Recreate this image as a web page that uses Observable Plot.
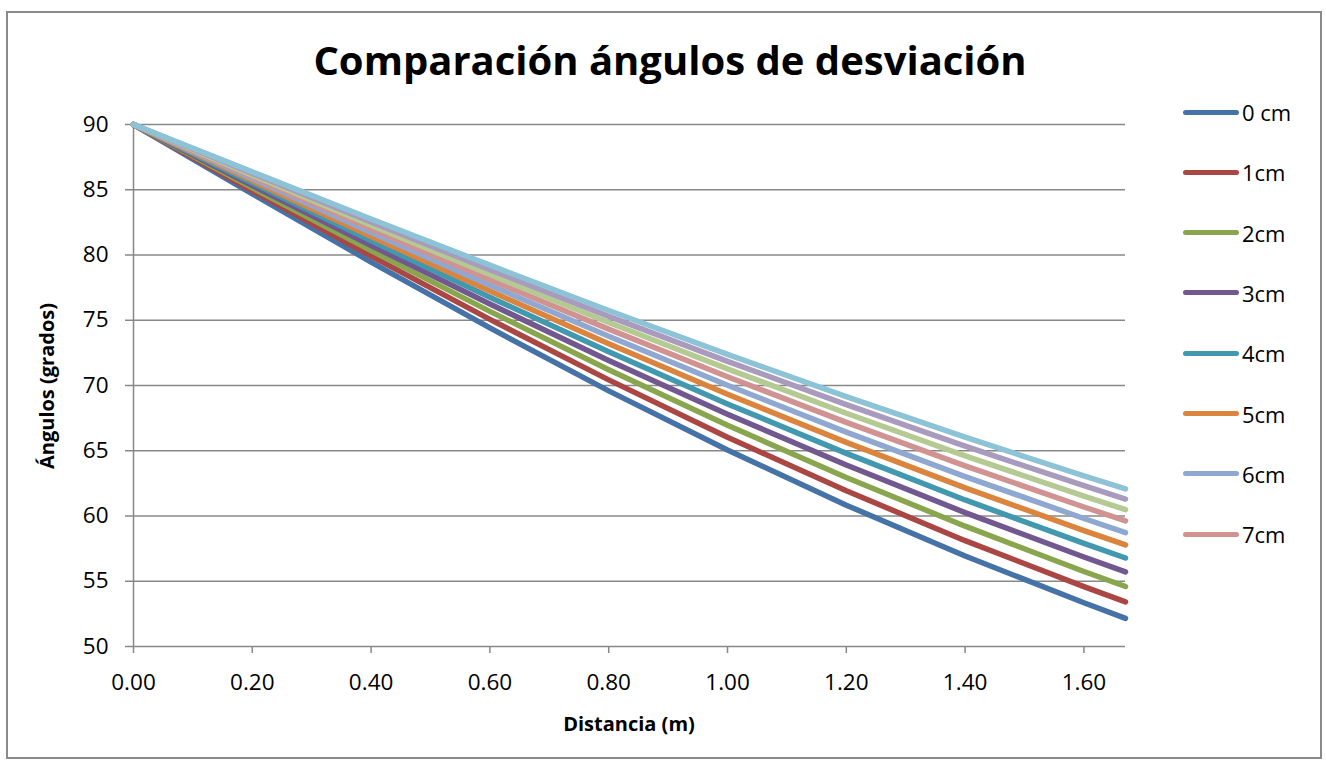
<!DOCTYPE html>
<html>
<head>
<meta charset="utf-8">
<script src="https://cdn.jsdelivr.net/npm/d3@7"></script>
<script src="https://cdn.jsdelivr.net/npm/@observablehq/plot@0.6"></script>
<style>
  body { margin: 0; background: #fff; }
  #wrap { position: relative; width: 1326px; height: 764px; font-family: "Open Sans", sans-serif; color: #000; overflow: hidden; }
  #frame { position: absolute; left: 6px; top: 11px; width: 1316px; height: 748px; border: 2px solid #8a8a8a; box-sizing: border-box; }
  #chart { position: absolute; left: 0; top: 0; }
  #title { position: absolute; left: 0; width: 1340px; top: 40px; text-align: center; font-weight: 700; font-size: 40px; line-height: 1; }
  #xtitle { position: absolute; left: 0; width: 1258px; top: 710px; text-align: center; font-weight: 700; font-size: 20px; }
  #ytitle { position: absolute; left: 46px; top: 386px; transform: translate(-50%, -50%) rotate(-90deg); font-weight: 700; font-size: 20px; white-space: nowrap; }
  #legend { position: absolute; left: 1183px; top: 0; }
  .item { position: absolute; left: 0; display: flex; align-items: center; white-space: nowrap; font-size: 22px; transform: translateY(-50%); }
  .item .sw { width: 56px; height: 5px; border-radius: 3px; margin-right: 3px; }
</style>
</head>
<body>
<div id="wrap">
  <div id="frame"></div>
  <div id="chart"></div>
  <div id="title">Comparación ángulos de desviación</div>
  <div id="xtitle">Distancia (m)</div>
  <div id="ytitle">Ángulos (grados)</div>
  <div id="legend"></div>
</div>
<script>
// ---- data ----
const distancia = [0, 0.2, 0.4, 0.6, 0.8, 1.0, 1.2, 1.4, 1.6, 1.67];
const seriesNames = ["0 cm", "1cm", "2cm", "3cm", "4cm", "5cm", "6cm", "7cm", "8cm", "9cm", "10cm"];
const legendNames = ["0 cm", "1cm", "2cm", "3cm", "4cm", "5cm", "6cm", "7cm"];
const colors = ["#4572A7", "#AA4643", "#89A54E", "#71588F", "#4198AF", "#DB843D", "#8FA8D2", "#D19392", "#B5CA92", "#A99BBD", "#8DC3D6"];
const s0 = [90, 84.69, 79.46, 74.41, 69.59, 65.06, 60.83, 56.93, 53.35, 52.16];
const s1 = [90, 84.92, 79.92, 75.07, 70.43, 66.04, 61.93, 58.11, 54.59, 53.42];
const s2 = [90, 85.14, 80.34, 75.68, 71.20, 66.95, 62.95, 59.22, 55.75, 54.60];
const s3 = [90, 85.33, 80.73, 76.24, 71.92, 67.80, 63.91, 60.26, 56.86, 55.72];
const s4 = [90, 85.52, 81.09, 76.76, 72.58, 68.59, 64.80, 61.23, 57.90, 56.78];
const s5 = [90, 85.68, 81.42, 77.24, 73.20, 69.33, 65.64, 62.16, 58.88, 57.78];
const s6 = [90, 85.84, 81.72, 77.69, 73.78, 70.02, 66.43, 63.02, 59.81, 58.73];
const s7 = [90, 85.99, 82.01, 78.11, 74.32, 70.67, 67.17, 63.84, 60.69, 59.63];
const s8 = [90, 86.12, 82.28, 78.50, 74.83, 71.27, 67.87, 64.61, 61.53, 60.49];
const s9 = [90, 86.25, 82.53, 78.87, 75.30, 71.85, 68.53, 65.35, 62.32, 61.30];
const s10 = [90, 86.37, 82.76, 79.22, 75.75, 72.39, 69.15, 66.04, 63.07, 62.07];
const xTicks = [0, 0.2, 0.4, 0.6, 0.8, 1.0, 1.2, 1.4, 1.6];
const yTicks = [50, 55, 60, 65, 70, 75, 80, 85, 90];

const allSeries = [s0, s1, s2, s3, s4, s5, s6, s7, s8, s9, s10];
const rows = allSeries.flatMap((vals, i) =>
  distancia.map((d, j) => ({ d, a: vals[j], s: seriesNames[i] })));

const chart = Plot.plot({
  width: 1326,
  height: 764,
  marginLeft: 133,
  marginRight: 201,
  marginTop: 124,
  marginBottom: 118,
  style: { fontFamily: "'Open Sans', sans-serif", fontSize: "22px", color: "#000", background: "transparent" },
  x: { domain: [0, 1.67], label: null },
  y: { domain: [50, 90], label: null },
  color: { domain: seriesNames, range: colors },
  marks: [
    Plot.ruleY(yTicks, { stroke: "#888", strokeWidth: 1.5 }),
    Plot.ruleX([0], { stroke: "#888", strokeWidth: 1.5 }),
    Plot.axisY(yTicks, { tickSize: 8, tickPadding: 17, stroke: "#888", strokeWidth: 1.5, fontSize: 22.5 }),
    Plot.axisX(xTicks, { tickSize: 7, tickPadding: 21, stroke: "#888", strokeWidth: 1.5, fontSize: 22.5, tickFormat: d3.format(".2f") }),
    Plot.line(rows, { x: "d", y: "a", z: "s", stroke: "s", strokeWidth: 5.5, strokeLinecap: "round", strokeLinejoin: "round" })
  ]
});
document.getElementById("chart").appendChild(chart);

const legend = document.getElementById("legend");
legendNames.forEach((name, i) => {
  const it = document.createElement("div");
  it.className = "item";
  it.style.top = (112 + i * 60.3) + "px";
  const sw = document.createElement("span");
  sw.className = "sw";
  sw.style.background = colors[seriesNames.indexOf(name)];
  const tx = document.createElement("span");
  tx.textContent = name;
  it.appendChild(sw);
  it.appendChild(tx);
  legend.appendChild(it);
});
</script>
</body>
</html>
